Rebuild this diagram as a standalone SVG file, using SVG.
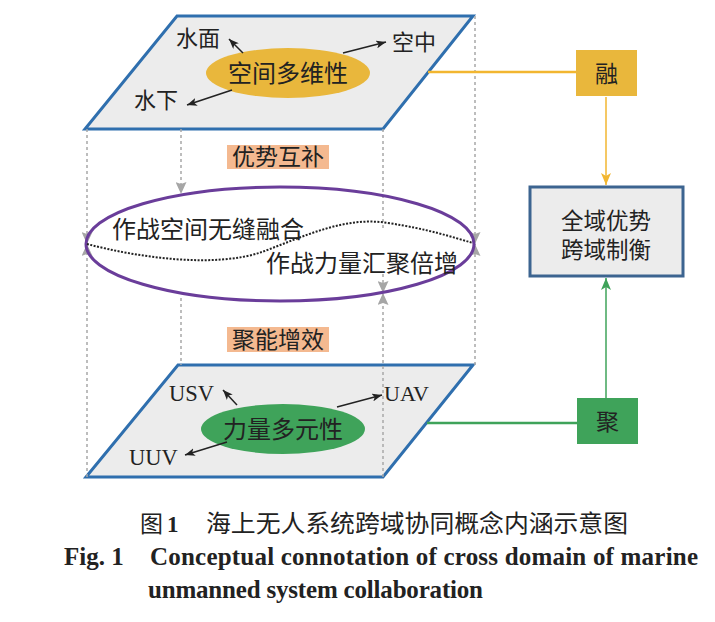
<svg xmlns="http://www.w3.org/2000/svg" width="715" height="622" viewBox="0 0 715 622">
<style>
.cjk{font-family:"Noto Sans CJK SC","Liberation Sans",sans-serif;fill:#222}
.tr{font-family:"Liberation Serif",serif;fill:#222}
.plane{fill:#ececec;stroke:#2f6fae;stroke-width:3;stroke-linejoin:miter}
.dash{stroke:#a8a8a8;stroke-width:1.5;stroke-dasharray:3 3;fill:none}
.blk{stroke:#222;stroke-width:1.5;fill:none}
.tag{fill:#f4b990}
</style>
<defs>
<marker id="mg" viewBox="0 0 12 11" refX="12" refY="5.5" markerWidth="12" markerHeight="11" markerUnits="userSpaceOnUse" orient="auto"><path d="M0,0 L12,5.5 L0,11 L2,5.5 z" fill="#a6a6a6"/></marker>
<marker id="mb" viewBox="0 0 10 8" refX="10" refY="4" markerWidth="10" markerHeight="8" markerUnits="userSpaceOnUse" orient="auto"><path d="M0,0 L10,4 L0,8 L2.5,4 z" fill="#222"/></marker>
<marker id="my" viewBox="0 0 12 10" refX="12" refY="5" markerWidth="12" markerHeight="10" markerUnits="userSpaceOnUse" orient="auto"><path d="M0,0 L12,5 L0,10 L3,5 z" fill="#f2b630"/></marker>
<marker id="mgr" viewBox="0 0 12 10" refX="12" refY="5" markerWidth="12" markerHeight="10" markerUnits="userSpaceOnUse" orient="auto"><path d="M0,0 L12,5 L0,10 L3,5 z" fill="#3fa35a"/></marker>
</defs>
<rect width="715" height="622" fill="#fff"/>

<g id="top-plane">
<polygon class="plane" points="177,16 473,16 383,129 85,129"/>
<ellipse cx="288" cy="73" rx="82" ry="25" fill="#e9b73c"/>
<text class="cjk" x="288" y="82" font-size="24" text-anchor="middle">空间多维性</text>
<text class="cjk" x="176" y="46" font-size="22">水面</text>
<text class="cjk" x="392" y="50" font-size="22">空中</text>
<text class="cjk" x="134" y="108" font-size="22">水下</text>
<line class="blk" x1="243" y1="53" x2="229" y2="39" marker-end="url(#mb)"/>
<line class="blk" x1="343" y1="53" x2="386" y2="42" marker-end="url(#mb)"/>
<line class="blk" x1="232" y1="90" x2="187" y2="105" marker-end="url(#mb)"/>
</g>

<g id="bottom-plane">
<polygon class="plane" points="178,365 473,365 383,477 86,477"/>
<ellipse cx="283" cy="429" rx="82" ry="25" fill="#3fa35a"/>
<text class="cjk" x="283" y="438" font-size="24" text-anchor="middle">力量多元性</text>
<text class="tr" x="169" y="401" font-size="22.5">USV</text>
<text class="tr" x="384" y="401" font-size="22">UAV</text>
<text class="tr" x="129" y="465" font-size="22.5">UUV</text>
<line class="blk" x1="237" y1="405" x2="223" y2="390" marker-end="url(#mb)"/>
<line class="blk" x1="337" y1="407" x2="382" y2="395" marker-end="url(#mb)"/>
<line class="blk" x1="227" y1="442" x2="185" y2="455" marker-end="url(#mb)"/>
</g>

<g id="connectors">
<line class="dash" x1="87" y1="129" x2="87" y2="244" marker-end="url(#mg)"/>
<line class="dash" x1="87" y1="477" x2="87" y2="244" marker-end="url(#mg)"/>
<line class="dash" x1="181" y1="129" x2="181" y2="194" marker-end="url(#mg)"/>
<line class="dash" x1="181" y1="298" x2="181" y2="365"/>
<line class="dash" x1="383" y1="129" x2="383" y2="228"/>
<line class="dash" x1="383" y1="274" x2="383" y2="293" marker-end="url(#mg)"/>
<line class="dash" x1="383" y1="477" x2="383" y2="293" marker-end="url(#mg)"/>
<line class="dash" x1="475" y1="16" x2="475" y2="244" marker-end="url(#mg)"/>
<line class="dash" x1="475" y1="365" x2="475" y2="244" marker-end="url(#mg)"/>
<line x1="428" y1="72" x2="576" y2="72" stroke="#f2b630" stroke-width="2.5"/>
<line x1="606" y1="97" x2="606" y2="185" stroke="#f2b630" stroke-width="1.5" marker-end="url(#my)"/>
<line x1="427" y1="423" x2="577" y2="423" stroke="#3fa35a" stroke-width="2.5"/>
<line x1="606" y1="398" x2="606" y2="278" stroke="#3fa35a" stroke-width="1.5" marker-end="url(#mgr)"/>
</g>

<g id="fusion-ellipse">
<ellipse cx="280" cy="244" rx="194" ry="57" fill="none" stroke="#6a3d9a" stroke-width="3"/>
<path d="M87,244 C140,258 215,268 262,252 C305,236 345,216 388,223 C428,229 452,237 473,243" fill="none" stroke="#222" stroke-width="2" stroke-dasharray="2 1.5"/>
<text class="cjk" x="112" y="238" font-size="24">作战空间无缝融合</text>
<text class="cjk" x="266" y="272" font-size="24">作战力量汇聚倍增</text>
</g>

<g id="tag-advantage">
<rect class="tag" x="227" y="145" width="102" height="24"/>
<text class="cjk" x="278" y="165" font-size="23" text-anchor="middle">优势互补</text>
</g>
<g id="tag-energy">
<rect class="tag" x="227" y="327" width="102" height="25"/>
<text class="cjk" x="278" y="348" font-size="23" text-anchor="middle">聚能增效</text>
</g>

<g id="node-rong">
<rect x="576" y="50" width="61" height="46" fill="#e9b73c"/>
<text class="cjk" x="606.5" y="82" font-size="23" text-anchor="middle">融</text>
</g>
<g id="node-ju">
<rect x="577" y="398" width="61" height="46" fill="#3fa35a"/>
<text class="cjk" x="607.5" y="430" font-size="23" text-anchor="middle">聚</text>
</g>
<g id="node-main">
<rect x="530" y="187" width="153" height="89" fill="#ececec" stroke="#3c6490" stroke-width="3"/>
<text class="cjk" x="606" y="229" font-size="22.5" text-anchor="middle">全域优势</text>
<text class="cjk" x="606" y="258" font-size="22.5" text-anchor="middle">跨域制衡</text>
</g>

<g id="caption">
<text class="cjk" x="140" y="532" font-size="23">图<tspan font-family="Liberation Serif" font-weight="bold" dx="4">1</tspan></text>
<text class="cjk" x="206" y="532" font-size="24" textLength="422" lengthAdjust="spacingAndGlyphs">海上无人系统跨域协同概念内涵示意图</text>
<text class="tr" x="64" y="565" font-size="25" font-weight="bold" fill="#111">Fig. 1</text>
<text class="tr" x="150" y="565" font-size="25" font-weight="bold" textLength="548" lengthAdjust="spacing">Conceptual connotation of cross domain of marine</text>
<text class="tr" x="148" y="598" font-size="25" font-weight="bold" textLength="335" lengthAdjust="spacing">unmanned system collaboration</text>
</g>
</svg>
